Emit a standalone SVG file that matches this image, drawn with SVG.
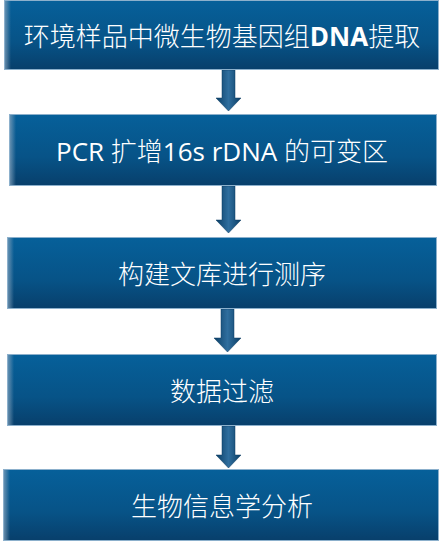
<svg xmlns="http://www.w3.org/2000/svg" width="440" height="542" viewBox="0 0 440 542">
<defs>
<linearGradient id="boxg" x1="0" y1="0" x2="0" y2="1">
<stop offset="0" stop-color="#06609A"/>
<stop offset="0.6" stop-color="#075387"/>
<stop offset="1" stop-color="#083F6B"/>
</linearGradient>
<linearGradient id="edge" x1="0" y1="0" x2="1" y2="0">
<stop offset="0" stop-color="#7A9CB8" stop-opacity="0.8"/>
<stop offset="1" stop-color="#7A9CB8" stop-opacity="0"/>
</linearGradient>
<linearGradient id="arrg" x1="0" y1="0" x2="1" y2="0">
<stop offset="0" stop-color="#0B3F66"/>
<stop offset="0.5" stop-color="#2F6E9E"/>
<stop offset="1" stop-color="#0B3F66"/>
</linearGradient>
</defs>
<style>
.box{fill:url(#boxg);stroke:#8CB0CC;stroke-width:1}
.edge{fill:url(#edge)}
.arr{fill:url(#arrg);stroke:#0A3A60;stroke-width:0.5}
.t{fill:#FFFFFF;font-family:"Open Sans","Noto Sans CJK SC",sans-serif;font-size:26px;font-weight:300;text-anchor:middle;dominant-baseline:central}
.lat{font-weight:400}
</style>
<g id="connectors">
<path class="arr" d="M222,70 H235 V98 H241 L228.5,111 L216,98 H222 Z"/>
<path class="arr" d="M222,186 H235 V220 H241 L228.5,233 L216,220 H222 Z"/>
<path class="arr" d="M221,309 H234 V338 H241 L227.5,352 L214,338 H221 Z"/>
<path class="arr" d="M222,426 H235 V455 H241 L228.5,468 L216,455 H222 Z"/>
</g>
<g id="n1">
<rect class="box" x="4.5" y="0.5" width="434" height="69"/>
<rect class="edge" x="5" y="1" width="6" height="68"/>
<text class="t" x="222" y="36">环境样品中微生物基因组<tspan font-weight="bold">DNA</tspan>提取</text>
</g>
<g id="n2">
<rect class="box" x="9.5" y="114.5" width="427" height="71"/>
<rect class="edge" x="10" y="115" width="6" height="70"/>
<text class="t" x="222" y="151"><tspan class="lat">PCR </tspan>扩增<tspan class="lat">16s rDNA </tspan>的可变区</text>
</g>
<g id="n3">
<rect class="box" x="7.5" y="237.5" width="429" height="71"/>
<rect class="edge" x="8" y="238" width="6" height="70"/>
<text class="t" x="222" y="274">构建文库进行测序</text>
</g>
<g id="n4">
<rect class="box" x="7.5" y="354.5" width="429" height="71"/>
<rect class="edge" x="8" y="355" width="6" height="70"/>
<text class="t" x="222" y="391">数据过滤</text>
</g>
<g id="n5">
<rect class="box" x="3.5" y="469.5" width="435" height="71"/>
<rect class="edge" x="4" y="470" width="6" height="70"/>
<text class="t" x="222" y="506">生物信息学分析</text>
</g>
</svg>
